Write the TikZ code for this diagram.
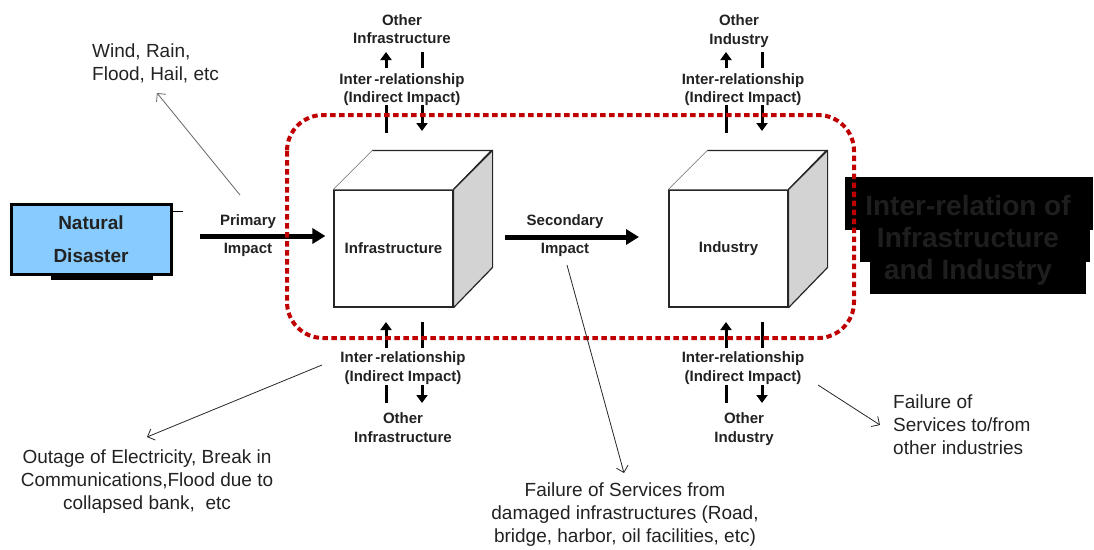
\documentclass[tikz,border=0pt]{standalone}
\usepackage{fontspec}
\setmainfont{Liberation Sans}
\usetikzlibrary{arrows.meta}
\definecolor{reddark}{HTML}{C00000}
\definecolor{ndblue}{HTML}{88CCFF}
\definecolor{sidegray}{HTML}{D3D3D3}
\definecolor{txt}{HTML}{222222}
\definecolor{titletxt}{HTML}{1E1E1E}
\begin{document}
\begin{tikzpicture}[x=1pt,y=-1pt,
  lbl/.style={font=\fontsize{15}{18.5}\selectfont\bfseries, align=center, inner sep=0pt, text=txt},
  reg/.style={font=\fontsize{19}{23}\selectfont, inner sep=0pt, text=txt},
  bigarrow/.style={line width=5pt, -{Triangle[length=13pt,width=15pt]}},
  smallarrow/.style={line width=3pt, -{Triangle[length=8pt,width=11pt]}},
  barline/.style={line width=3pt},
  thinarrow/.style={line width=0.8pt, draw=black!85, -{Straight Barb[length=6pt,width=12pt]}},
  cubefront/.style={draw=black!85, line width=1.2pt, fill=white, minimum width=119pt, minimum height=117pt, inner sep=0pt, font=\fontsize{15}{18}\selectfont\bfseries, text=txt},
  reddots/.style={draw=reddark, line width=4pt, dash pattern=on 5.5pt off 3.5pt, rounded corners=36pt}
]
\useasboundingbox (0,0) rectangle (1094,549);

% Natural disaster box
\fill (51,275) rectangle (153,280);
\draw[line width=1pt] (172,211) -- (183,211);
\node[draw, line width=3pt, fill=ndblue, minimum width=160pt, minimum height=70pt, inner sep=0pt,
      font=\fontsize{19}{33}\selectfont\bfseries, align=center, text=txt] (nd) at (91,239) {Natural\\Disaster};

% Title block
\fill (845,177) rectangle (1093,230);
\fill (860,229) rectangle (1090,262);
\fill (870,261) rectangle (1086,294);
\node[font=\fontsize{28}{32}\selectfont\bfseries, align=center, text=titletxt, inner sep=0pt] (title) at (968,240) {Inter-relation of\\Infrastructure\\and Industry};

% Cubes
\node[cubefront] (infra) at (393.5,248.5) {Infrastructure};
\node[cubefront] (indus) at (728.5,248.5) {Industry};
\foreach \c in {infra,indus}{
  \fill[white] (\c.north west) -- ++(39,-39) -- ++(119,0) -- (\c.north east) -- cycle;
  \draw[black!60, line width=0.6pt] (\c.north west) -- ++(39,-39);
  \draw[black!85, line width=1.2pt] (\c.north west) ++(39,-39) -- ++(119,0) -- (\c.north east);
  \filldraw[fill=sidegray, draw=black!85, line width=1.2pt, line join=round] (\c.north east) -- ++(39,-39) -- ++(0,117) -- (\c.south east) -- cycle;
}

% Primary / secondary impact
\coordinate (p0) at (200,236);
\coordinate (s0) at (505,237);
\coordinate (s1) at (639,237);
\draw[bigarrow] (p0) -- (infra.west |- p0) [shorten >=8pt];
\draw[bigarrow] (s0) -- (s1);
\node[lbl, font=\fontsize{15}{28}\selectfont\bfseries] (prim) at (248,236) {Primary\\Impact};
\node[lbl, font=\fontsize{15}{28}\selectfont\bfseries] (seclbl) at (565,236) {Secondary\\Impact};

% Labels around Infrastructure
\node[lbl] (infOtop) at (402,29) {Other\\Infrastructure};
\node[lbl] (infItop) at (402,89.5) {Inter\,-relationship\\(Indirect Impact)};
\node[lbl] (infIbot) at (403,368) {Inter\,-relationship\\(Indirect Impact)};
\node[lbl] (infObot) at (403,427.5) {Other\\Infrastructure};
% Labels around Industry
\node[lbl] (indOtop) at (739,31) {Other\\Industry};
\node[lbl] (indItop) at (743,89.5) {Inter-relationship\\(Indirect Impact)};
\node[lbl] (indIbot) at (743,368) {Inter-relationship\\(Indirect Impact)};
\node[lbl] (indObot) at (744,429) {Other\\Industry};

% small vertical arrows
\foreach \xa/\xb/\n in {386/422/a,726/762/b}{
  \coordinate (t1\n) at (\xa,68); \coordinate (t2\n) at (\xa,52);
  \coordinate (t3\n) at (\xb,52); \coordinate (t4\n) at (\xb,68);
  \coordinate (t5\n) at (\xa,105); \coordinate (t6\n) at (\xa,133);
  \coordinate (t7\n) at (\xb,105); \coordinate (t8\n) at (\xb,131);
  \draw[smallarrow] (t1\n) -- (t2\n);
  \draw[barline] (t3\n) -- (t4\n);
  \draw[barline] (t5\n) -- (t6\n);
  \draw[smallarrow] (t7\n) -- (t8\n);
  \coordinate (b1\n) at (\xa,348); \coordinate (b2\n) at (\xa,322);
  \coordinate (b3\n) at (\xb,322); \coordinate (b4\n) at (\xb,348);
  \coordinate (b5\n) at (\xa,385); \coordinate (b6\n) at (\xa,403);
  \coordinate (b7\n) at (\xb,385); \coordinate (b8\n) at (\xb,403);
  \draw[smallarrow] (b1\n) -- (b2\n);
  \draw[barline] (b3\n) -- (b4\n);
  \draw[barline] (b5\n) -- (b6\n);
  \draw[smallarrow] (b7\n) -- (b8\n);
}

% red dotted boundary
\draw[reddots] (287,115) rectangle (854,338);

% Side texts
\node[reg, anchor=west, align=left] (wind) at (92,63.5) {Wind, Rain,\\Flood, Hail, etc};
\node[reg, align=center] (outage) at (147,482) {Outage of Electricity, Break in\\Communications,Flood due to\\collapsed bank,\ \ etc};
\node[reg, align=center] (failfrom) at (625,515) {Failure of Services from\\damaged infrastructures (Road,\\bridge, harbor, oil facilities, etc)};
\node[reg, anchor=west, align=left] (failto) at (893,425) {Failure of\\Services to/from\\other industries};

% thin arrows
\coordinate (w0) at (240,195); \coordinate (w1) at (157,93);
\coordinate (o0) at (322,365); \coordinate (o1) at (147,437);
\coordinate (f0) at (567,265); \coordinate (f1) at (624,473);
\coordinate (g0) at (818,385); \coordinate (g1) at (880,425);
\draw[thinarrow, draw=black!60] (w0) -- (w1);
\draw[thinarrow] (o0) -- (o1);
\draw[thinarrow] (f0) -- (f1);
\draw[thinarrow] (g0) -- (g1);
\end{tikzpicture}
\end{document}
